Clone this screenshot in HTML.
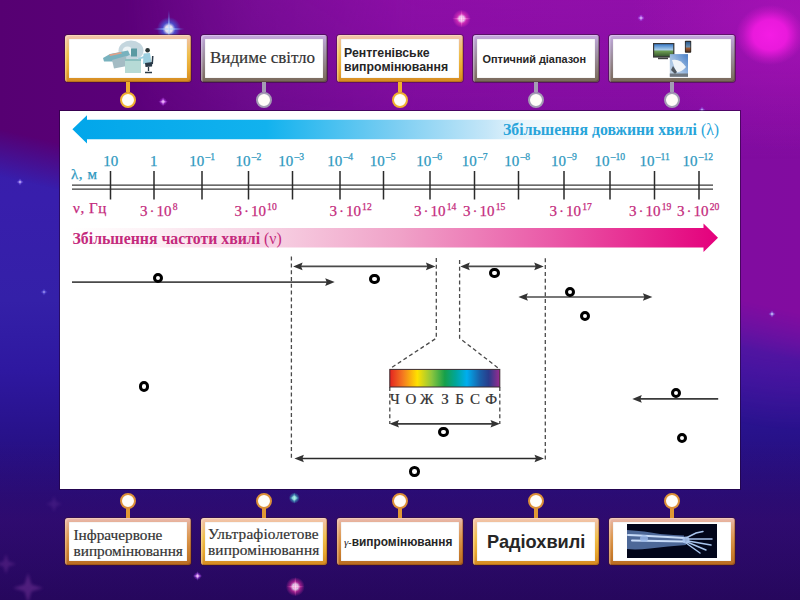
<!DOCTYPE html>
<html><head><meta charset="utf-8">
<style>
*{margin:0;padding:0;box-sizing:border-box}
html,body{width:800px;height:600px;overflow:hidden}
body{position:relative;font-family:"Liberation Sans",sans-serif;background:#2a1090}
.abs{position:absolute}
.card{position:absolute;width:126px;height:47px;border-radius:3px;padding:4px;}
.card .in{width:100%;height:100%;background:#fff;position:relative;overflow:hidden;box-shadow:inset 0 0 1px rgba(0,0,0,0.35)}
.gold{background:linear-gradient(180deg,#f2c4b0 0%,#f0c090 14%,#f0c050 40%,#e8a830 72%,#d48a22 100%);box-shadow:0 0 0 1px rgba(60,20,40,0.45),inset 1.5px 1px 0 rgba(255,235,200,0.45),inset -1px -1px 0 rgba(140,70,10,0.35)}
.copper{background:linear-gradient(180deg,#eab8b0 0%,#e4ac88 14%,#dc9850 42%,#cc8030 72%,#b86c22 100%);box-shadow:0 0 0 1px rgba(60,20,40,0.45),inset 1.5px 1px 0 rgba(255,225,200,0.4),inset -1px -1px 0 rgba(120,50,10,0.35)}
.silver{background:linear-gradient(180deg,#c8a8e0 0%,#b4a0c8 15%,#9a8c98 50%,#786858 100%);box-shadow:0 0 0 1px rgba(40,20,40,0.5),inset 1.5px 1px 0 rgba(240,225,255,0.4),inset -1px -1px 0 rgba(60,40,30,0.35)}
.stem{position:absolute;width:4px}
.ring{position:absolute;width:16px;height:16px;border-radius:50%;background:#fffdf8;border:2.6px solid}
.t{position:absolute;white-space:nowrap;line-height:1}
.lab{position:absolute;white-space:nowrap;line-height:15px;height:15px;font-family:"Liberation Serif",serif;font-size:15px;-webkit-text-stroke:0.25px currentColor}
.cy{color:#2e98c0}
.mg{color:#c42a7c}
.lab sup{font-size:9.6px;line-height:0;vertical-align:0;position:relative;top:-5.4px;margin-left:1.2px}
.o{position:absolute;width:10.6px;height:10.6px;border-radius:50%;border:3.3px solid #000;background:#fff}
</style></head><body>
<div class="abs" style="left:0;top:0;width:800px;height:600px;background:linear-gradient(180deg,#3a1ca8 0px,#381eac 200px,#3420a8 300px,#2e18a0 370px,#28128c 430px,#220c74 500px,#22085e 600px)"></div>
<div class="abs" style="left:0;top:0;width:800px;height:600px;background:linear-gradient(90deg,#560072 0px,#5a0078 120px,#680a8a 260px,#760a98 400px,#7e0c9e 560px,#800ca0 700px,#820ca0 800px);-webkit-mask-image:linear-gradient(193deg,#000 0%,#000 40%,rgba(0,0,0,0.5) 43%,rgba(0,0,0,0) 46%),radial-gradient(ellipse 300px 330px at 800px 100px,rgba(0,0,0,0.95) 0%,rgba(0,0,0,0.8) 45%,rgba(0,0,0,0.45) 75%,rgba(0,0,0,0) 100%)"></div>
<div class="abs" style="left:0;top:0;width:800px;height:600px;background:linear-gradient(180deg,rgba(70,10,110,0) 440px,rgba(70,10,110,0.35) 520px,rgba(50,5,90,0.25) 600px)"></div>
<div class="abs" style="left:0;top:0;width:800px;height:600px;background:linear-gradient(180deg,rgba(170,20,185,0.42) 0px,rgba(170,20,185,0.3) 60px,rgba(170,20,185,0.12) 110px,rgba(170,20,185,0) 160px);-webkit-mask-image:linear-gradient(90deg,rgba(0,0,0,0) 120px,rgba(0,0,0,0.6) 260px,#000 420px)"></div>
<div class="abs" style="left:0;top:0;width:800px;height:600px;background:radial-gradient(ellipse 160px 130px at 790px 20px,rgba(180,20,190,0.55) 0%,rgba(170,20,180,0.25) 60%,rgba(170,20,180,0) 100%)"></div>
<div class="abs" style="left:0;top:0;width:800px;height:600px;background:radial-gradient(ellipse 34px 30px at 770px 35px,rgba(244,28,228,1) 0%,rgba(240,26,224,0.92) 50%,rgba(220,24,210,0.4) 80%,rgba(200,20,200,0) 100%)"></div>
<svg class="abs" style="left:0;top:0" width="800" height="600" viewBox="0 0 800 600"><defs>
<radialGradient id="st0"><stop offset="0" stop-color="#f4ffff" stop-opacity="1.0"/><stop offset="0.3" stop-color="#f4ffff" stop-opacity="0.85"/><stop offset="0.55" stop-color="#3a80ff" stop-opacity="0.55"/><stop offset="1" stop-color="#3a80ff" stop-opacity="0"/></radialGradient>
<radialGradient id="sf0"><stop offset="0" stop-color="#f4ffff" stop-opacity="0.9"/><stop offset="1" stop-color="#3a80ff" stop-opacity="0"/></radialGradient>
<radialGradient id="st1"><stop offset="0" stop-color="#fff0ff" stop-opacity="0.95"/><stop offset="0.3" stop-color="#fff0ff" stop-opacity="0.8075"/><stop offset="0.55" stop-color="#ff40c0" stop-opacity="0.5225"/><stop offset="1" stop-color="#ff40c0" stop-opacity="0"/></radialGradient>
<radialGradient id="sf1"><stop offset="0" stop-color="#fff0ff" stop-opacity="0.855"/><stop offset="1" stop-color="#ff40c0" stop-opacity="0"/></radialGradient>
<radialGradient id="st2"><stop offset="0" stop-color="#fff0ff" stop-opacity="0.95"/><stop offset="0.3" stop-color="#fff0ff" stop-opacity="0.8075"/><stop offset="0.55" stop-color="#ff30b0" stop-opacity="0.5225"/><stop offset="1" stop-color="#ff30b0" stop-opacity="0"/></radialGradient>
<radialGradient id="sf2"><stop offset="0" stop-color="#fff0ff" stop-opacity="0.855"/><stop offset="1" stop-color="#ff30b0" stop-opacity="0"/></radialGradient>
<radialGradient id="st3"><stop offset="0" stop-color="#c0fff0" stop-opacity="0.95"/><stop offset="0.3" stop-color="#c0fff0" stop-opacity="0.8075"/><stop offset="0.55" stop-color="#40c0d0" stop-opacity="0.5225"/><stop offset="1" stop-color="#40c0d0" stop-opacity="0"/></radialGradient>
<radialGradient id="sf3"><stop offset="0" stop-color="#c0fff0" stop-opacity="0.855"/><stop offset="1" stop-color="#40c0d0" stop-opacity="0"/></radialGradient>
<radialGradient id="st4"><stop offset="0" stop-color="#ffd8ff" stop-opacity="0.8"/><stop offset="0.3" stop-color="#ffd8ff" stop-opacity="0.68"/><stop offset="0.55" stop-color="#c040ff" stop-opacity="0.44000000000000006"/><stop offset="1" stop-color="#c040ff" stop-opacity="0"/></radialGradient>
<radialGradient id="sf4"><stop offset="0" stop-color="#ffd8ff" stop-opacity="0.7200000000000001"/><stop offset="1" stop-color="#c040ff" stop-opacity="0"/></radialGradient>
<radialGradient id="st5"><stop offset="0" stop-color="#ffd8ff" stop-opacity="0.8"/><stop offset="0.3" stop-color="#ffd8ff" stop-opacity="0.68"/><stop offset="0.55" stop-color="#b040ff" stop-opacity="0.44000000000000006"/><stop offset="1" stop-color="#b040ff" stop-opacity="0"/></radialGradient>
<radialGradient id="sf5"><stop offset="0" stop-color="#ffd8ff" stop-opacity="0.7200000000000001"/><stop offset="1" stop-color="#b040ff" stop-opacity="0"/></radialGradient>
<radialGradient id="st6"><stop offset="0" stop-color="#f0d0ff" stop-opacity="0.7"/><stop offset="0.3" stop-color="#f0d0ff" stop-opacity="0.595"/><stop offset="0.55" stop-color="#a050ff" stop-opacity="0.385"/><stop offset="1" stop-color="#a050ff" stop-opacity="0"/></radialGradient>
<radialGradient id="sf6"><stop offset="0" stop-color="#f0d0ff" stop-opacity="0.63"/><stop offset="1" stop-color="#a050ff" stop-opacity="0"/></radialGradient>
<radialGradient id="st7"><stop offset="0" stop-color="#e0d0ff" stop-opacity="0.6"/><stop offset="0.3" stop-color="#e0d0ff" stop-opacity="0.51"/><stop offset="0.55" stop-color="#8060ff" stop-opacity="0.33"/><stop offset="1" stop-color="#8060ff" stop-opacity="0"/></radialGradient>
<radialGradient id="sf7"><stop offset="0" stop-color="#e0d0ff" stop-opacity="0.54"/><stop offset="1" stop-color="#8060ff" stop-opacity="0"/></radialGradient>
<radialGradient id="st8"><stop offset="0" stop-color="#e0d0ff" stop-opacity="0.6"/><stop offset="0.3" stop-color="#e0d0ff" stop-opacity="0.51"/><stop offset="0.55" stop-color="#8060ff" stop-opacity="0.33"/><stop offset="1" stop-color="#8060ff" stop-opacity="0"/></radialGradient>
<radialGradient id="sf8"><stop offset="0" stop-color="#e0d0ff" stop-opacity="0.54"/><stop offset="1" stop-color="#8060ff" stop-opacity="0"/></radialGradient>
<radialGradient id="st9"><stop offset="0" stop-color="#c8c0ff" stop-opacity="0.45"/><stop offset="0.3" stop-color="#c8c0ff" stop-opacity="0.3825"/><stop offset="0.55" stop-color="#6060ff" stop-opacity="0.24750000000000003"/><stop offset="1" stop-color="#6060ff" stop-opacity="0"/></radialGradient>
<radialGradient id="sf9"><stop offset="0" stop-color="#c8c0ff" stop-opacity="0.405"/><stop offset="1" stop-color="#6060ff" stop-opacity="0"/></radialGradient>
<radialGradient id="st10"><stop offset="0" stop-color="#e0e8ff" stop-opacity="0.6"/><stop offset="0.3" stop-color="#e0e8ff" stop-opacity="0.51"/><stop offset="0.55" stop-color="#8080ff" stop-opacity="0.33"/><stop offset="1" stop-color="#8080ff" stop-opacity="0"/></radialGradient>
<radialGradient id="sf10"><stop offset="0" stop-color="#e0e8ff" stop-opacity="0.54"/><stop offset="1" stop-color="#8080ff" stop-opacity="0"/></radialGradient>
</defs>
<circle cx="168.9" cy="29" r="12" fill="url(#st0)"/>
<ellipse cx="168.9" cy="29" rx="17" ry="1.5" fill="url(#sf0)"/>
<ellipse cx="168.9" cy="29" rx="1.5" ry="20" fill="url(#sf0)"/>
<circle cx="461.6" cy="18.7" r="9" fill="url(#st1)"/>
<ellipse cx="461.6" cy="18.7" rx="10" ry="1.5" fill="url(#sf1)"/>
<ellipse cx="461.6" cy="18.7" rx="1.5" ry="9" fill="url(#sf1)"/>
<circle cx="295.3" cy="586.7" r="9.5" fill="url(#st2)"/>
<ellipse cx="295.3" cy="586.7" rx="9" ry="1.5" fill="url(#sf2)"/>
<ellipse cx="295.3" cy="586.7" rx="1.5" ry="10" fill="url(#sf2)"/>
<circle cx="294.3" cy="498" r="5.5" fill="url(#st3)"/>
<ellipse cx="294.3" cy="498" rx="5" ry="1.5" fill="url(#sf3)"/>
<ellipse cx="294.3" cy="498" rx="1.5" ry="6" fill="url(#sf3)"/>
<circle cx="163.1" cy="101.7" r="4" fill="url(#st4)"/>
<ellipse cx="163.1" cy="101.7" rx="5" ry="1.5" fill="url(#sf4)"/>
<ellipse cx="163.1" cy="101.7" rx="1.5" ry="5" fill="url(#sf4)"/>
<circle cx="197.5" cy="576" r="4" fill="url(#st5)"/>
<ellipse cx="197.5" cy="576" rx="5" ry="1.5" fill="url(#sf5)"/>
<ellipse cx="197.5" cy="576" rx="1.5" ry="5" fill="url(#sf5)"/>
<circle cx="641" cy="18" r="3.5" fill="url(#st6)"/>
<ellipse cx="641" cy="18" rx="4" ry="1.5" fill="url(#sf6)"/>
<ellipse cx="641" cy="18" rx="1.5" ry="4" fill="url(#sf6)"/>
<circle cx="702" cy="110" r="3" fill="url(#st7)"/>
<ellipse cx="702" cy="110" rx="4" ry="1.5" fill="url(#sf7)"/>
<ellipse cx="702" cy="110" rx="1.5" ry="4" fill="url(#sf7)"/>
<circle cx="20" cy="182" r="3" fill="url(#st8)"/>
<ellipse cx="20" cy="182" rx="4" ry="1.5" fill="url(#sf8)"/>
<ellipse cx="20" cy="182" rx="1.5" ry="4" fill="url(#sf8)"/>
<circle cx="44" cy="292" r="3" fill="url(#st9)"/>
<ellipse cx="44" cy="292" rx="4" ry="1.5" fill="url(#sf9)"/>
<ellipse cx="44" cy="292" rx="1.5" ry="4" fill="url(#sf9)"/>
<circle cx="772" cy="314" r="3" fill="url(#st10)"/>
<ellipse cx="772" cy="314" rx="4" ry="1.5" fill="url(#sf10)"/>
<ellipse cx="772" cy="314" rx="1.5" ry="4" fill="url(#sf10)"/>
<filter id="fb" x="-50%" y="-50%" width="200%" height="200%"><feGaussianBlur stdDeviation="1.6"/></filter>
<polygon points="28.0,573.0 31.5,584.5 43.0,588.0 31.5,591.5 28.0,603.0 24.5,591.5 13.0,588.0 24.5,584.5" fill="#8a40a8" opacity="0.4" filter="url(#fb)"/>
<polygon points="6.0,554.0 8.5,561.5 16.0,564.0 8.5,566.5 6.0,574.0 3.5,566.5 -4.0,564.0 3.5,561.5" fill="#8a40a8" opacity="0.3" filter="url(#fb)"/>
<polygon points="54.0,496.0 56.1,501.9 62.0,504.0 56.1,506.1 54.0,512.0 51.9,506.1 46.0,504.0 51.9,501.9" fill="#7a40a8" opacity="0.25" filter="url(#fb)"/>
</svg>
<div class="abs" style="left:59px;top:110px;width:682px;height:380px;background:rgba(30,0,50,0.55)"></div>
<div class="abs" style="left:60px;top:111px;width:680px;height:378px;background:#fff"></div>
<div class="card gold" style="left:65px;top:35px"><div class="in"></div></div>
<div class="card silver" style="left:201px;top:35px"><div class="in"><div class="t" style="left:5px;top:10px;font-family:'Liberation Serif',serif;font-size:17px;color:#333;-webkit-text-stroke:0.2px #333">Видиме світло</div></div></div>
<div class="card gold" style="left:337px;top:35px"><div class="in"><div class="t" style="left:3px;top:7px;font-weight:bold;font-size:12.3px;line-height:14.3px;color:#262626">Рентгенівське<br>випромінювання</div></div></div>
<div class="card silver" style="left:473px;top:35px"><div class="in"><div class="t" style="left:5.5px;top:14.5px;font-weight:bold;font-size:10.9px;color:#262626">Оптичний діапазон</div></div></div>
<div class="card silver" style="left:609px;top:35px"><div class="in"></div></div>
<div class="stem" style="left:126px;top:82px;height:10px;background:#f0b030"></div>
<div class="ring" style="left:120px;top:91.6px;border-color:#f0b030"></div>
<div class="stem" style="left:262px;top:82px;height:10px;background:#a49cb4"></div>
<div class="ring" style="left:256px;top:91.6px;border-color:#a49cb4"></div>
<div class="stem" style="left:398px;top:82px;height:10px;background:#f0b030"></div>
<div class="ring" style="left:392px;top:91.6px;border-color:#f0b030"></div>
<div class="stem" style="left:534px;top:82px;height:10px;background:#a49cb4"></div>
<div class="ring" style="left:528px;top:91.6px;border-color:#a49cb4"></div>
<div class="stem" style="left:670px;top:82px;height:10px;background:#a49cb4"></div>
<div class="ring" style="left:664px;top:91.6px;border-color:#a49cb4"></div>
<div class="card copper" style="left:65px;top:518px"><div class="in"><div class="t" style="left:4.5px;top:5px;font-family:'Liberation Serif',serif;font-size:15.3px;line-height:15.6px;color:#333;-webkit-text-stroke:0.2px #333">Інфрачервоне<br>випромінювання</div></div></div>
<div class="card gold" style="left:201px;top:518px"><div class="in"><div class="t" style="left:3px;top:3.5px;font-family:'Liberation Serif',serif;font-size:15.3px;line-height:16.6px;color:#333;letter-spacing:0.15px;-webkit-text-stroke:0.2px #333">Ультрафіолетове<br>випромінювання</div></div></div>
<div class="card copper" style="left:337px;top:518px"><div class="in"><div class="t" style="left:3px;top:15px;font-weight:bold;font-size:11.9px;color:#262626"><span style="font-family:'Liberation Serif',serif;font-style:italic;font-weight:normal;font-size:11px">γ</span><span style="font-weight:normal;font-size:10px">-</span>випромінювання</div></div></div>
<div class="card gold" style="left:473px;top:518px"><div class="in"><div class="t" style="left:10px;top:11px;font-weight:bold;font-size:18.2px;color:#262626">Радіохвилі</div></div></div>
<div class="card copper" style="left:609px;top:518px"><div class="in"></div></div>
<div class="stem" style="left:126px;top:507px;height:11px;background:#e09834"></div>
<div class="ring" style="left:120px;top:493px;border-color:#dc9038"></div>
<div class="stem" style="left:262px;top:507px;height:11px;background:#e09834"></div>
<div class="ring" style="left:256px;top:493px;border-color:#dc9038"></div>
<div class="stem" style="left:398px;top:507px;height:11px;background:#e09834"></div>
<div class="ring" style="left:392px;top:493px;border-color:#dc9038"></div>
<div class="stem" style="left:534px;top:507px;height:11px;background:#e09834"></div>
<div class="ring" style="left:528px;top:493px;border-color:#dc9038"></div>
<div class="stem" style="left:670px;top:507px;height:11px;background:#e09834"></div>
<div class="ring" style="left:664px;top:493px;border-color:#dc9038"></div>
<svg class="abs" style="left:0;top:0" width="800" height="600" viewBox="0 0 800 600">
<defs>
<linearGradient id="gb" x1="72" y1="0" x2="720" y2="0" gradientUnits="userSpaceOnUse">
<stop offset="0" stop-color="#02a6ea"/><stop offset="0.3" stop-color="#12b2ee"/><stop offset="0.5" stop-color="#7ccef2"/><stop offset="0.64" stop-color="#c4e6f8"/><stop offset="0.7" stop-color="#eaf6fc"/><stop offset="0.8" stop-color="#ffffff"/><stop offset="1" stop-color="#ffffff"/></linearGradient>
<linearGradient id="gp" x1="72" y1="0" x2="718" y2="0" gradientUnits="userSpaceOnUse">
<stop offset="0" stop-color="#ffffff"/><stop offset="0.12" stop-color="#fdf2f6"/><stop offset="0.325" stop-color="#f6cce0"/><stop offset="0.508" stop-color="#f0a2c8"/><stop offset="0.74" stop-color="#ea5aa8"/><stop offset="1" stop-color="#e4007c"/></linearGradient>
<linearGradient id="spec" x1="0" y1="0" x2="1" y2="0">
<stop offset="0" stop-color="#e42320"/><stop offset="0.12" stop-color="#f47a20"/><stop offset="0.25" stop-color="#ffe100"/><stop offset="0.38" stop-color="#8cc63e"/><stop offset="0.5" stop-color="#16a04a"/><stop offset="0.6" stop-color="#00a69a"/><stop offset="0.7" stop-color="#00aeef"/><stop offset="0.82" stop-color="#1a5fa8"/><stop offset="0.9" stop-color="#283c8c"/><stop offset="1" stop-color="#9a2a90"/></linearGradient>
</defs>
<path d="M72.4 129.3 L87 115.2 L87 119.8 L720 119.8 L720 139.2 L87 139.2 L87 143.4 Z" fill="url(#gb)"/>
<path d="M72 228 L703.5 228 L703.5 223.5 L718 237.7 L703.5 252 L703.5 247.5 L72 247.5 Z" fill="url(#gp)"/>
<path d="M72 185.2 H713 M72 189.2 H713" stroke="#3a3a3a" stroke-width="1.3" fill="none"/>
<path d="M110.5 171 V199.5 M154 171 V199.5 M202 171 V199.5 M248.5 171 V199.5 M292.5 171 V199.5 M340 171 V199.5 M383.5 171 V199.5 M430 171 V199.5 M474.5 171 V199.5 M518.5 171 V199.5 M564 171 V199.5 M610 171 V199.5 M654.5 171 V199.5 M699 171 V199.5" stroke="#2a2a2a" stroke-width="1.5" fill="none"/>
<path d="M291.4 256.6 V460.6 M545.3 258.3 V460.6" stroke="#4a4a4a" stroke-width="1.3" stroke-dasharray="4 2.8" fill="none"/>
<path d="M436.3 257.9 V338.2 L389.8 368.8 M459.6 260 V338.2 L499.2 368.8 M389.8 387 V424 M499.8 387 V424" stroke="#4a4a4a" stroke-width="1.3" stroke-dasharray="4 2.8" fill="none"/>
<path d="M72 282.1 H328" stroke="#4a4a4a" stroke-width="1.7" fill="none"/>
<path d="M334.7 282.1 L325.2 278.3 L326.7 282.1 L325.2 285.90000000000003 Z" fill="#333"/>
<path d="M298 266.4 H430" stroke="#4a4a4a" stroke-width="1.7" fill="none"/>
<path d="M293.1 266.4 L302.6 262.59999999999997 L301.1 266.4 L302.6 270.2 Z" fill="#333"/>
<path d="M435.4 266.4 L425.9 262.59999999999997 L427.4 266.4 L425.9 270.2 Z" fill="#333"/>
<path d="M465 266.4 H538" stroke="#4a4a4a" stroke-width="1.7" fill="none"/>
<path d="M460.3 266.4 L469.8 262.59999999999997 L468.3 266.4 L469.8 270.2 Z" fill="#333"/>
<path d="M543.7 266.4 L534.2 262.59999999999997 L535.7 266.4 L534.2 270.2 Z" fill="#333"/>
<path d="M524 297 H646" stroke="#4a4a4a" stroke-width="1.7" fill="none"/>
<path d="M518.4 297 L527.9 293.2 L526.4 297 L527.9 300.8 Z" fill="#333"/>
<path d="M652.4 297 L642.9 293.2 L644.4 297 L642.9 300.8 Z" fill="#333"/>
<path d="M638 398.9 H718.2" stroke="#3a3a3a" stroke-width="1.7" fill="none"/>
<path d="M632.3 398.9 L641.8 395.09999999999997 L640.3 398.9 L641.8 402.7 Z" fill="#333"/>
<path d="M395 423.8 H494" stroke="#3a3a3a" stroke-width="1.7" fill="none"/>
<path d="M389.5 423.8 L399.0 420.0 L397.5 423.8 L399.0 427.6 Z" fill="#333"/>
<path d="M500 423.8 L490.5 420.0 L492.0 423.8 L490.5 427.6 Z" fill="#333"/>
<path d="M300 458.5 H538" stroke="#2a2a2a" stroke-width="1.7" fill="none"/>
<path d="M294.4 458.5 L303.9 454.7 L302.4 458.5 L303.9 462.3 Z" fill="#333"/>
<path d="M544 458.5 L534.5 454.7 L536.0 458.5 L534.5 462.3 Z" fill="#333"/>
<rect x="389.8" y="369.4" width="110" height="17.6" fill="url(#spec)" stroke="#3a2a30" stroke-width="1"/>
</svg>
<svg class="abs" style="left:0;top:0" width="800" height="600" viewBox="0 0 800 600">
<defs>
<linearGradient id="tvs" x1="0" y1="0" x2="0" y2="1"><stop offset="0" stop-color="#3a7cc8"/><stop offset="0.45" stop-color="#a8cce8"/><stop offset="0.6" stop-color="#6a9a50"/><stop offset="1" stop-color="#3a5a30"/></linearGradient>
<linearGradient id="dsky" x1="1" y1="0" x2="0" y2="1"><stop offset="0" stop-color="#4a80c8"/><stop offset="0.6" stop-color="#a8c4e4"/><stop offset="1" stop-color="#c8d4e0"/></linearGradient>
<linearGradient id="phs" x1="0" y1="0" x2="0" y2="1"><stop offset="0" stop-color="#2a5a90"/><stop offset="0.5" stop-color="#6a90b0"/><stop offset="0.65" stop-color="#a05a30"/><stop offset="1" stop-color="#503020"/></linearGradient>
<radialGradient id="glowb" cx="0.5" cy="0.5" r="0.5"><stop offset="0" stop-color="#fff" stop-opacity="1"/><stop offset="0.3" stop-color="#bfe0ff" stop-opacity="0.9"/><stop offset="1" stop-color="#4080ff" stop-opacity="0"/></radialGradient>
</defs>
<!-- MRI -->
<filter id="mb" x="-10%" y="-10%" width="120%" height="120%"><feGaussianBlur stdDeviation="0.45"/></filter>
<g filter="url(#mb)">
<ellipse cx="131" cy="50.5" rx="12.5" ry="10" fill="#c4d6de"/>
<ellipse cx="127.5" cy="51" rx="5" ry="4.5" fill="#eef4f6"/>
<path d="M103 58 L110 54 L128 50.5 L130 55 L113 61.5 L104 61.5 Z" fill="#78b2be"/>
<path d="M109 54.5 L121 52 L122 53.5 L110 56 Z" fill="#e0a088"/>
<path d="M112 60 L126 56 L127 66 L114 68.5 Z" fill="#a4bcc4"/>
<rect x="125" y="59" width="16" height="14" fill="#b6dad6"/>
<rect x="125" y="59" width="16" height="2" fill="#8cc0c0"/>
<rect x="131" y="48.5" width="6" height="8" fill="#5a9aa2"/>
<circle cx="147.6" cy="50.2" r="2.3" fill="#2a3436"/>
<path d="M143.5 53.5 L150 53 L151.5 63 L143 64 Z" fill="#9ccfe0"/>
<path d="M138 58 L144 56 L144.5 58 L138.5 59.5 Z" fill="#9ccfe0"/>
<path d="M145 63 L152.5 62 L152 66.5 L145.5 67 Z" fill="#2c3a48"/>
<path d="M152 56 L153.5 56 L153 64 L151.5 64 Z" fill="#2c3a48"/>
<path d="M148.5 67 V71 M145 72.5 L152 72.5" stroke="#2c3a48" stroke-width="1.3"/>
</g>
<!-- TV / phone / dish -->
<rect x="653" y="43" width="21.4" height="14.6" fill="#383838"/>
<rect x="654.2" y="44.2" width="19" height="12" fill="url(#tvs)" filter="url(#mb)"/>
<rect x="658" y="57.6" width="10" height="1.6" fill="#404040"/>
<rect x="684.9" y="40.8" width="6.3" height="12" rx="0.8" fill="#2a2420"/>
<rect x="685.7" y="41.8" width="4.7" height="10" fill="url(#phs)"/>
<rect x="669.8" y="54.1" width="18.2" height="22.7" fill="url(#dsky)"/>
<path d="M672 60 Q680 58 686 67 Q681 73 676 72 Z" fill="#f0f4f8"/>
<path d="M673 66 L677 72 L675 74 L671 70 Z" fill="#505860"/>
<rect x="669.8" y="73.5" width="18.2" height="3.3" fill="#707880"/>
<!-- X-ray -->
<filter id="xb" x="-10%" y="-30%" width="120%" height="160%"><feGaussianBlur stdDeviation="0.7"/></filter>
<rect x="627" y="524" width="90" height="34" fill="#02061a"/>
<g filter="url(#xb)">
<path d="M627 530 Q645 531 660 534 Q675 535 684 535.5 L686 545 Q668 546 650 548.5 Q636 550 627 549 Z" fill="#6080b8" opacity="0.8"/>
<path d="M628 535 Q650 536 684 538 M632 540.5 Q660 541 684 541.5" stroke="#c8dcf8" stroke-width="2" stroke-linecap="round" fill="none"/>
<ellipse cx="644" cy="538.5" rx="4" ry="3.5" fill="#9ab8e8" opacity="0.8"/>
<ellipse cx="686" cy="540" rx="3.5" ry="3.5" fill="#a8c4ee" opacity="0.9"/>
<path d="M686 538 L696 533 L703 531.5 M688 539 L712 539 M688 541 L711 545 M687 542 L706 550 M686 543 L700 553" stroke="#a8c4ec" stroke-width="1.5" stroke-linecap="round" fill="none"/>
</g>
</svg>

<div class="lab cy" style="left:103.2px;top:153.8px">10</div>
<div class="lab cy" style="left:150px;top:153.8px">1</div>
<div class="lab cy" style="left:189.2px;top:153.8px">10<sup>–1</sup></div>
<div class="lab cy" style="left:235.5px;top:153.8px">10<sup>–2</sup></div>
<div class="lab cy" style="left:278.3px;top:153.8px">10<sup>–3</sup></div>
<div class="lab cy" style="left:327.3px;top:153.8px">10<sup>–4</sup></div>
<div class="lab cy" style="left:369.7px;top:153.8px">10<sup>–5</sup></div>
<div class="lab cy" style="left:416.3px;top:153.8px">10<sup>–6</sup></div>
<div class="lab cy" style="left:461.7px;top:153.8px">10<sup>–7</sup></div>
<div class="lab cy" style="left:504.3px;top:153.8px">10<sup>–8</sup></div>
<div class="lab cy" style="left:551px;top:153.8px">10<sup>–9</sup></div>
<div class="lab cy" style="left:594.5px;top:153.8px">10<sup>–10</sup></div>
<div class="lab cy" style="left:639.5px;top:153.8px">10<sup>–11</sup></div>
<div class="lab cy" style="left:682.5px;top:153.8px">10<sup>–12</sup></div>
<div class="lab mg" style="left:140px;top:203.5px">3<span style="margin:0 2px">·</span>10<sup>8</sup></div>
<div class="lab mg" style="left:234.4px;top:203.5px">3<span style="margin:0 2px">·</span>10<sup>10</sup></div>
<div class="lab mg" style="left:329.4px;top:203.5px">3<span style="margin:0 2px">·</span>10<sup>12</sup></div>
<div class="lab mg" style="left:414px;top:203.5px">3<span style="margin:0 2px">·</span>10<sup>14</sup></div>
<div class="lab mg" style="left:463px;top:203.5px">3<span style="margin:0 2px">·</span>10<sup>15</sup></div>
<div class="lab mg" style="left:549.6px;top:203.5px">3<span style="margin:0 2px">·</span>10<sup>17</sup></div>
<div class="lab mg" style="left:629px;top:203.5px">3<span style="margin:0 2px">·</span>10<sup>19</sup></div>
<div class="lab mg" style="left:677px;top:203.5px">3<span style="margin:0 2px">·</span>10<sup>20</sup></div>
<div class="lab cy" style="left:71px;top:167px"><span style="letter-spacing:0.6px">λ, м</span></div>
<div class="lab mg" style="left:73px;top:201px"><span style="letter-spacing:0.6px">ν, Гц</span></div>
<div class="t" style="left:503px;top:122px;font-family:'Liberation Serif',serif;font-weight:bold;font-size:15.8px;color:#28a4da">Збільшення довжини хвилі <span style="font-weight:normal">(λ)</span></div>
<div class="t" style="left:72.5px;top:230.5px;font-family:'Liberation Serif',serif;font-weight:bold;font-size:15.8px;color:#c42a7c">Збільшення частоти хвилі <span style="font-weight:normal">(ν)</span></div>
<div class="t" style="left:384.75px;width:20px;text-align:center;top:391.5px;font-family:'Liberation Serif',serif;font-size:15px;color:#333;-webkit-text-stroke:0.2px #333">Ч</div>
<div class="t" style="left:401px;width:20px;text-align:center;top:391.5px;font-family:'Liberation Serif',serif;font-size:15px;color:#333;-webkit-text-stroke:0.2px #333">О</div>
<div class="t" style="left:416.75px;width:20px;text-align:center;top:391.5px;font-family:'Liberation Serif',serif;font-size:15px;color:#333;-webkit-text-stroke:0.2px #333">Ж</div>
<div class="t" style="left:435px;width:20px;text-align:center;top:391.5px;font-family:'Liberation Serif',serif;font-size:15px;color:#333;-webkit-text-stroke:0.2px #333">З</div>
<div class="t" style="left:449.5px;width:20px;text-align:center;top:391.5px;font-family:'Liberation Serif',serif;font-size:15px;color:#333;-webkit-text-stroke:0.2px #333">Б</div>
<div class="t" style="left:465px;width:20px;text-align:center;top:391.5px;font-family:'Liberation Serif',serif;font-size:15px;color:#333;-webkit-text-stroke:0.2px #333">С</div>
<div class="t" style="left:481.25px;width:20px;text-align:center;top:391.5px;font-family:'Liberation Serif',serif;font-size:15px;color:#333;-webkit-text-stroke:0.2px #333">Ф</div>
<div class="o" style="left:152.7px;top:272.7px"></div>
<div class="o" style="left:369.09999999999997px;top:273.7px"></div>
<div class="o" style="left:489.09999999999997px;top:267.7px"></div>
<div class="o" style="left:564.7px;top:286.7px"></div>
<div class="o" style="left:579.7px;top:310.7px"></div>
<div class="o" style="left:138.7px;top:381.2px"></div>
<div class="o" style="left:670.5px;top:387.9px"></div>
<div class="o" style="left:676.5px;top:432.5px"></div>
<div class="o" style="left:438.45px;top:426.7px"></div>
<div class="o" style="left:409.2px;top:466.0px"></div>
</body></html>
